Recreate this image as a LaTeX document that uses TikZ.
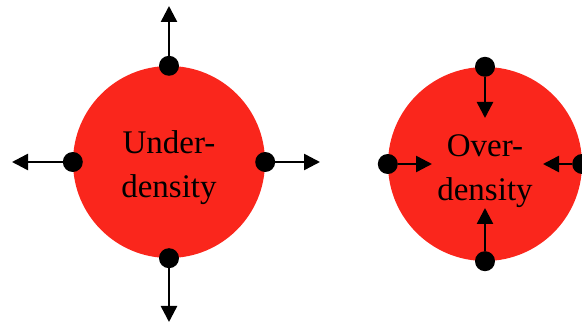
\documentclass[tikz,border=0pt]{standalone}
\usepackage{fontspec}
\setmainfont{Liberation Serif}
\usetikzlibrary{arrows.meta}
\definecolor{blobred}{RGB}{250,38,28}
\begin{document}
\begin{tikzpicture}[x=1pt,y=1pt,
  blob/.style={circle,fill=blobred,inner sep=0pt},
  lbl/.style={align=center,inner sep=0pt,font=\fontsize{33}{44}\selectfont},
  dot/.style={circle,fill=black,minimum size=20pt,inner sep=0pt},
  vec/.style={line width=2.5pt,-{Triangle[length=16pt,width=16pt]}}]
  \useasboundingbox (0,0) rectangle (582,324);
  % the two regions
  \node[blob,minimum size=192pt] (under) at (169,162) {};
  \node[blob,minimum size=194pt] (over) at (485,160) {};
  \node[lbl] (under-txt) at ([yshift=-6pt]under.center) {Under-\\density};
  \node[lbl] (over-txt) at ([yshift=-7pt]over.center) {Over-\\density};
  \foreach \a in {north,south,east,west} {
    \node[dot] (u-\a) at (under.\a) {};
    \node[dot] (o-\a) at (over.\a) {};
  }
  % arrow ends
  \coordinate (u-n-tip) at (169,318);
  \coordinate (u-s-tip) at (169,2);
  \coordinate (u-e-tip) at (320,162);
  \coordinate (u-w-tip) at (12,162);
  \coordinate (o-n-tip) at (485,206);
  \coordinate (o-s-tip) at (485,116);
  \coordinate (o-e-tip) at (543,160);
  \coordinate (o-w-tip) at (432,160);
  % outward and inward flow
  \draw[vec] (u-north) -- (u-n-tip);
  \draw[vec] (u-south) -- (u-s-tip);
  \draw[vec] (u-east) -- (u-e-tip);
  \draw[vec] (u-west) -- (u-w-tip);
  \draw[vec] (o-north) -- (o-n-tip);
  \draw[vec] (o-south) -- (o-s-tip);
  \draw[vec] (o-east) -- (o-e-tip);
  \draw[vec] (o-west) -- (o-w-tip);
\end{tikzpicture}
\end{document}
